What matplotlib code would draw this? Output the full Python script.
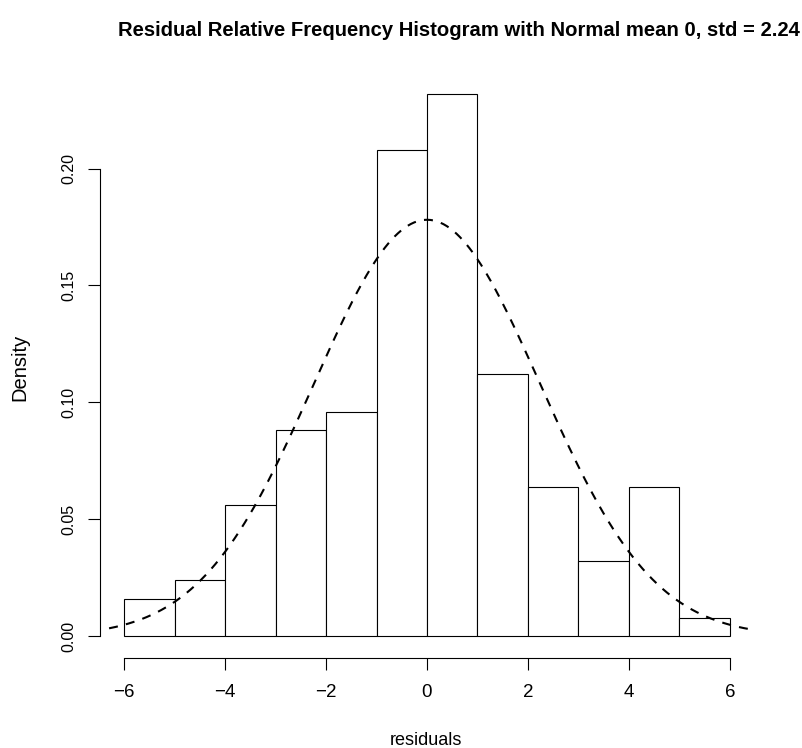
import numpy as np
import matplotlib
matplotlib.use('Agg')
import matplotlib.pyplot as plt

# histogram data (density per unit-width bin)
bin_edges = [-6, -5, -4, -3, -2, -1, 0, 1, 2, 3, 4, 5, 6]
densities = [0.016, 0.024, 0.056, 0.088, 0.096, 0.208, 0.232, 0.112, 0.064, 0.032, 0.064, 0.008]
mean = 0.0
std = 2.24
x_ticks = [-6, -4, -2, 0, 2, 4, 6]
x_labels = ['\u22126', '\u22124', '\u22122', '0', '2', '4', '6']
y_ticks = [0.00, 0.05, 0.10, 0.15, 0.20]
y_labels = ['0.00', '0.05', '0.10', '0.15', '0.20']

plt.rcParams['font.family'] = ['Liberation Sans', 'DejaVu Sans']

fig = plt.figure(figsize=(8.03, 7.48), dpi=100)
ax = fig.add_axes([100/803, 1-658/748, 654/803, 586/748])

lefts = np.array(bin_edges[:-1])
widths = np.diff(bin_edges)
ax.bar(lefts, densities, width=widths, align='edge', color='white',
       edgecolor='black', linewidth=0.8)

# normal curve
xs = np.linspace(-6.3, 6.6, 400)
ys = np.exp(-0.5 * ((xs - mean) / std) ** 2) / (std * np.sqrt(2 * np.pi))
ax.plot(xs, ys, color='black', lw=1.5, linestyle=(0, (4.3, 4)))

ax.set_xlim(-6.48, 6.48)
ax.set_ylim(-0.00928, 0.24128)

for s in ['top', 'right']:
    ax.spines[s].set_visible(False)
ax.spines['left'].set_bounds(0, 0.20)
ax.spines['bottom'].set_bounds(-6, 6)
ax.spines['left'].set_linewidth(0.8)
ax.spines['bottom'].set_linewidth(0.8)

ax.set_xticks(x_ticks)
ax.set_xticklabels(x_labels)
ax.set_yticks(y_ticks)
ax.set_yticklabels(y_labels, rotation=90, va='center')
ax.tick_params(direction='out', length=8.5, width=0.8)
ax.tick_params(axis='x', labelsize=13.5, pad=10.5)
ax.tick_params(axis='y', labelsize=11.5, pad=8.5)

fig.text(426/803, 1-745/748, 'residuals', ha='center', va='baseline', fontsize=13)
fig.text(20/803, 1-367/748, 'Density', ha='center', va='center', rotation=90, fontsize=14.5)

fig.text(459/803, 1-30/748, 'Residual Relative Frequency Histogram with Normal mean 0, std = 2.24',
         ha='center', va='center', fontsize=14.6, fontweight='bold')

fig.savefig('out.png', dpi=100)
